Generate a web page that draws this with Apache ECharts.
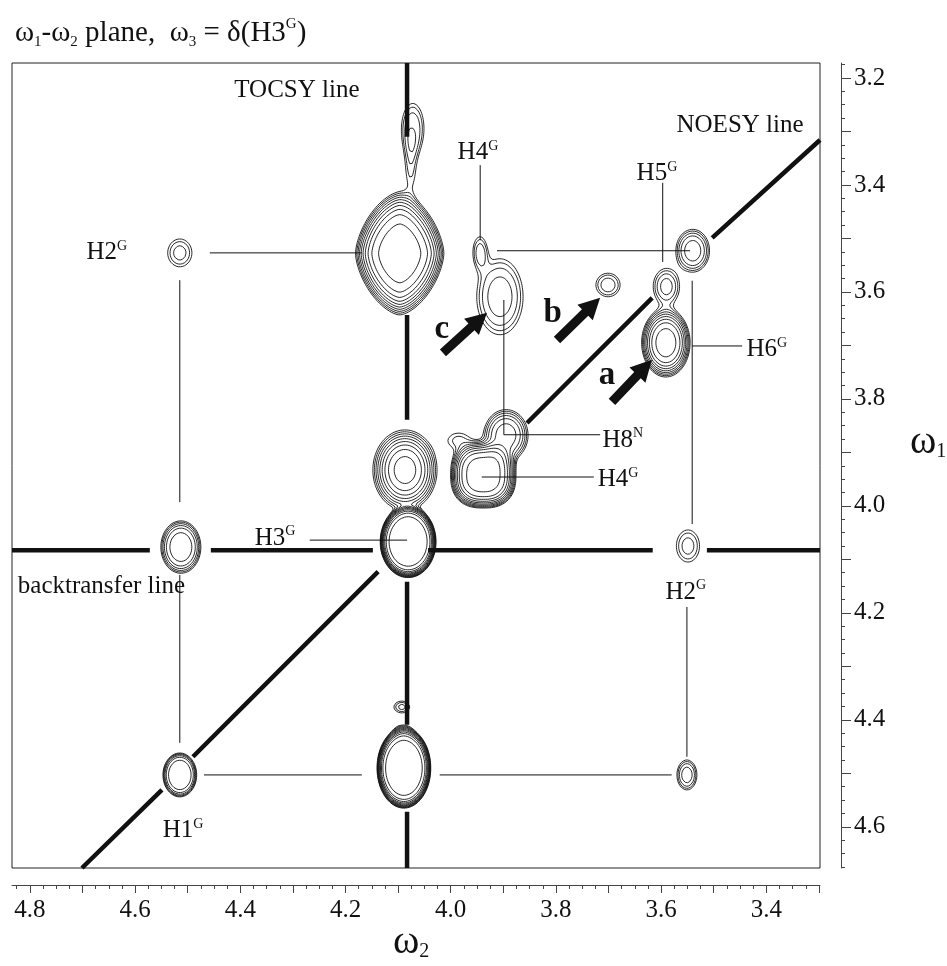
<!DOCTYPE html>
<html><head><meta charset="utf-8">
<script src="https://cdn.jsdelivr.net/npm/echarts@6/dist/echarts.min.js"></script>
<style>html,body{margin:0;padding:0;background:#fff}#c{width:947px;height:966px}</style>
</head><body><div id="c"></div>
<script>
// ---------------- data (ppm) ----------------
const xTickLabels = [4.8, 4.6, 4.4, 4.2, 4.0, 3.8, 3.6, 3.4];
const yTickLabels = [3.2, 3.4, 3.6, 3.8, 4.0, 4.2, 4.4, 4.6];
const w2Range = [3.298, 4.834];
const w1Range = [3.172, 4.677];

// cross peaks: centre (w2, w1), outer half widths, number of contour levels
const peakW2     = [4.072, 4.076, 4.097, 4.515, 4.513, 4.515, 4.089, 4.091, 4.093, 4.087, 4.081, 3.938, 3.895, 3.985, 3.9445, 3.9065, 3.701, 3.591, 3.590, 3.540, 3.549, 3.551];
const peakW1     = [3.294, 3.365, 3.528, 3.527, 4.077, 4.503, 4.490, 4.419, 4.376, 3.933, 4.067, 3.942, 3.868, 3.878, 3.525, 3.609, 3.587, 3.695, 3.590, 3.523, 4.075, 4.503];
const peakHalfW2 = [0.021, 0.009, 0.084, 0.023, 0.038, 0.032, 0.051, 0.012, 0.015, 0.061, 0.053, 0.062, 0.042, 0.020, 0.013, 0.044, 0.023, 0.046, 0.025, 0.032, 0.022, 0.019];
const peakHalfW1 = [0.046, 0.035, 0.115, 0.026, 0.049, 0.041, 0.075, 0.008, 0.011, 0.075, 0.067, 0.062, 0.048, 0.014, 0.028, 0.071, 0.022, 0.064, 0.034, 0.040, 0.030, 0.028];
const peakLevels = [3, 2, 10, 3, 6, 6, 11, 2, 3, 9, 11, 10, 6, 2, 3, 4, 3, 9, 4, 5, 3, 4];
const peakSharp  = [1.5, 1, 2, 1.2, 2, 3, 4, 1, 1, 1.3, 4, 2.2, 1.5, 1, 1.2, 1.5, 1.5, 1.6, 1.2, 1.5, 1.2, 1.5];
const peakNorm   = [2, 2, 1.6, 2, 2, 2, 2, 2, 2, 2, 2, 2.5, 2, 2, 2, 2, 2, 2, 2, 2, 2, 2];

// thick reference lines, segments [w2a, w1a, w2b, w1b]
const tocsyLine = [[4.083, 3.172, 4.083, 3.310], [4.083, 3.643, 4.083, 3.839], [4.083, 4.142, 4.083, 4.409], [4.083, 4.572, 4.083, 4.677]];
const backtransferLine = [[4.834, 4.083, 4.572, 4.083], [4.456, 4.083, 4.148, 4.083], [4.043, 4.083, 3.616, 4.083], [3.513, 4.083, 3.298, 4.083]];
const noesyLine = [[4.701, 4.677, 4.549, 4.531], [4.490, 4.469, 4.138, 4.123], [3.855, 3.845, 3.617, 3.611], [3.503, 3.499, 3.298, 3.316]];

// thin connector lines
const connectors = [
  [4.458, 3.527, 4.169, 3.527], [4.515, 3.578, 4.515, 3.993], [4.515, 4.129, 4.515, 4.443],
  [4.469, 4.503, 4.169, 4.503], [4.021, 4.503, 3.580, 4.503], [3.551, 4.189, 3.551, 4.469],
  [3.541, 3.579, 3.541, 4.034], [3.541, 3.701, 3.446, 3.701], [3.597, 3.396, 3.597, 3.544],
  [3.912, 3.523, 3.545, 3.523], [3.944, 3.363, 3.944, 3.503], [3.899, 3.615, 3.899, 3.867],
  [3.899, 3.867, 3.716, 3.867], [3.941, 3.946, 3.728, 3.946], [4.268, 4.064, 4.083, 4.064]
];

// annotations [text, superscript, w2, w1]
const annotations = [
  ['TOCSY line', '', 4.2924, 3.2224], ['NOESY line', '', 3.450, 3.288],
  ['H2', 'G', 4.6536, 3.527], ['H4', 'G', 3.9483, 3.340], ['H5', 'G', 3.608, 3.379],
  ['H6', 'G', 3.399, 3.708], ['H8', 'N', 3.673, 3.877], ['H4', 'G', 3.682, 3.951],
  ['H3', 'G', 4.334, 4.060], ['backtransfer line', '', 4.664, 4.151],
  ['H2', 'G', 3.553, 4.161], ['H1', 'G', 4.509, 4.607]
];
const arrowLetters = [['a', 3.703, 3.757], ['b', 3.806, 3.641], ['c', 4.017, 3.671]];
// arrows [tail w2, tail w1, tip w2, tip w1]
const arrows = [[3.6935, 3.8056, 3.6175, 3.727], [3.798, 3.690, 3.716, 3.611], [4.0148, 3.714, 3.931, 3.639]];

// ---------------- contour computation ----------------
const Q = 1.3;
function buildContours() {
  const X0 = w2Range[0], Y0 = w1Range[0], S = 0.002;
  const nx = Math.floor((w2Range[1] - X0) / S) + 2, ny = Math.floor((w1Range[1] - Y0) / S) + 2;
  const F = new Float64Array(nx * ny);
  let maxF = 0;
  for (let k = 0; k < peakW2.length; k++) {
    const n = peakLevels[k], p = peakSharp[k], m = peakNorm[k];
    const A = Math.pow(Q, n - 0.5), lnA = Math.log(A);
    const dOut = Math.pow(lnA, 1 / (2 * p));
    const sx = peakHalfW2[k] / dOut, sy = peakHalfW1[k] / dOut;
    const dMax = Math.pow(Math.log(A / 0.01), 1 / (2 * p)) * 1.2;
    const i0 = Math.max(0, Math.floor((peakW2[k] - dMax * sx - X0) / S));
    const i1 = Math.min(nx - 1, Math.ceil((peakW2[k] + dMax * sx - X0) / S));
    const j0 = Math.max(0, Math.floor((peakW1[k] - dMax * sy - Y0) / S));
    const j1 = Math.min(ny - 1, Math.ceil((peakW1[k] + dMax * sy - Y0) / S));
    for (let j = j0; j <= j1; j++) {
      const v = Math.abs((Y0 + j * S - peakW1[k]) / sy);
      for (let i = i0; i <= i1; i++) {
        const u = Math.abs((X0 + i * S - peakW2[k]) / sx);
        const d = m === 2 ? Math.sqrt(u * u + v * v) : Math.pow(Math.pow(u, m) + Math.pow(v, m), 1 / m);
        F[j * nx + i] += A * Math.exp(-Math.pow(d, 2 * p));
      }
    }
  }
  for (let t = 0; t < F.length; t++) if (F[t] > maxF) maxF = F[t];
  const data = [];
  function edgePoint(e, L) {
    const base = Math.floor(e / 2), i = base % nx, j = (base - i) / nx;
    if (e % 2 === 0) {
      const a = F[j * nx + i], b = F[j * nx + i + 1];
      const t = (L - a) / (b - a);
      return [X0 + (i + t) * S, Y0 + j * S];
    } else {
      const a = F[j * nx + i], b = F[(j + 1) * nx + i];
      const t = (L - a) / (b - a);
      return [X0 + i * S, Y0 + (j + t) * S];
    }
  }
  for (let L = 1; L < maxF; L *= Q) {
    const segs = [];
    for (let j = 0; j < ny - 1; j++) {
      for (let i = 0; i < nx - 1; i++) {
        const a = F[j * nx + i], b = F[j * nx + i + 1], c = F[(j + 1) * nx + i + 1], d = F[(j + 1) * nx + i];
        const idx = (a > L ? 1 : 0) | (b > L ? 2 : 0) | (c > L ? 4 : 0) | (d > L ? 8 : 0);
        if (idx === 0 || idx === 15) continue;
        const eB = 2 * (j * nx + i), eT = 2 * ((j + 1) * nx + i), eL = 2 * (j * nx + i) + 1, eR = 2 * (j * nx + i + 1) + 1;
        switch (idx) {
          case 1: case 14: segs.push(eL, eB); break;
          case 2: case 13: segs.push(eB, eR); break;
          case 3: case 12: segs.push(eL, eR); break;
          case 4: case 11: segs.push(eR, eT); break;
          case 6: case 9: segs.push(eB, eT); break;
          case 7: case 8: segs.push(eL, eT); break;
          case 5: { const ctr = (a + b + c + d) / 4; if (ctr > L) segs.push(eB, eR, eL, eT); else segs.push(eL, eB, eR, eT); break; }
          case 10: { const ctr = (a + b + c + d) / 4; if (ctr > L) segs.push(eL, eB, eR, eT); else segs.push(eB, eR, eL, eT); break; }
        }
      }
    }
    const ns = segs.length / 2;
    const adj = new Map();
    for (let k = 0; k < ns; k++) {
      for (let q = 0; q < 2; q++) {
        const e = segs[2 * k + q];
        const l = adj.get(e); if (l) l.push(k); else adj.set(e, [k]);
      }
    }
    const used = new Uint8Array(ns);
    const walk = (start, out) => {
      let e = start;
      for (;;) {
        const lst = adj.get(e); let nk = -1;
        for (const c of lst) if (!used[c]) { nk = c; break; }
        if (nk < 0) break;
        used[nk] = 1;
        e = segs[2 * nk] === e ? segs[2 * nk + 1] : segs[2 * nk];
        out.push(e);
      }
    };
    for (let k = 0; k < ns; k++) {
      if (used[k]) continue;
      used[k] = 1;
      const fwd = [segs[2 * k + 1]]; walk(segs[2 * k + 1], fwd);
      const bwd = []; walk(segs[2 * k], bwd);
      const chain = bwd.reverse().concat([segs[2 * k]], fwd);
      for (const e of chain) data.push(edgePoint(e, L));
      data.push(['-', '-']);
    }
  }
  return data;
}

function segData(segs) {
  const out = [];
  segs.forEach(s => { out.push([s[0], s[1]], [s[2], s[3]], ['-', '-']); });
  return out;
}

const FONT = 'Liberation Serif';
const minorX = [], majorX = [], minorY = [], majorY = [];
for (let k = 132; k <= 193; k++) minorX.push(+(k * 0.025).toFixed(3));
for (let k = 33; k <= 48; k++) majorX.push(+(k * 0.1).toFixed(1));
for (let k = 127; k <= 187; k++) minorY.push(+(k * 0.025).toFixed(3));
for (let k = 32; k <= 46; k++) majorY.push(+(k * 0.1).toFixed(1));

const axisColor = '#444';
const labelStyle = { fontFamily: FONT, fontSize: 25, color: '#111' };
const noBorder = { textBorderWidth: 0, textBorderColor: 'transparent', textShadowBlur: 0 };

const chart = echarts.init(document.getElementById('c'), null, { renderer: 'canvas' });
chart.setOption({
  animation: false,
  backgroundColor: '#fff',
  title: {
    left: 10, top: 12,
    text: '{t|ω}{s|1}{t|-ω}{s|2}{t| plane,  ω}{s|3}{t| = δ(H3}{p|G}{t|)}',
    textStyle: {
      fontWeight: 'normal',
      rich: {
        t: { fontFamily: FONT, fontSize: 29, fontWeight: 'normal', color: '#111', lineHeight: 33 },
        s: { fontFamily: FONT, fontSize: 15, fontWeight: 'normal', color: '#111', verticalAlign: 'bottom', lineHeight: 15 },
        p: { fontFamily: FONT, fontSize: 15, fontWeight: 'normal', color: '#111', verticalAlign: 'top', lineHeight: 16 }
      }
    }
  },
  graphic: [
    { type: 'text', left: 910, top: 422, style: { text: '{w|ω}{s|1}', rich: {
      w: { fontFamily: FONT, fontSize: 40, fill: '#111', lineHeight: 40 },
      s: { fontFamily: FONT, fontSize: 20, fill: '#111', verticalAlign: 'bottom', lineHeight: 20 } } } },
    { type: 'text', left: 393, top: 922, style: { text: '{w|ω}{s|2}', rich: {
      w: { fontFamily: FONT, fontSize: 40, fill: '#111', lineHeight: 40 },
      s: { fontFamily: FONT, fontSize: 20, fill: '#111', verticalAlign: 'bottom', lineHeight: 20 } } } }
  ],
  grid: { left: 12, right: 127, top: 63, bottom: 98, show: true, borderColor: '#222', borderWidth: 1, backgroundColor: 'transparent' },
  xAxis: [
    { type: 'value', inverse: true, min: w2Range[0], max: w2Range[1], position: 'bottom', offset: 17,
      axisLine: { show: true, lineStyle: { color: axisColor, width: 1 } },
      axisTick: { show: true, length: 8, customValues: majorX, lineStyle: { color: axisColor } },
      axisLabel: { show: true, customValues: xTickLabels, formatter: v => v.toFixed(1), margin: 13, ...labelStyle },
      splitLine: { show: false } },
    { type: 'value', inverse: true, min: w2Range[0], max: w2Range[1], position: 'bottom', offset: 17,
      axisLine: { show: false }, axisLabel: { show: false }, splitLine: { show: false },
      axisTick: { show: true, length: 4, customValues: minorX, lineStyle: { color: axisColor } } }
  ],
  yAxis: [
    { type: 'value', inverse: true, min: w1Range[0], max: w1Range[1], position: 'right', offset: 21,
      axisLine: { show: true, lineStyle: { color: axisColor, width: 1 } },
      axisTick: { show: true, length: 10, customValues: majorY, lineStyle: { color: axisColor } },
      axisLabel: { show: true, customValues: yTickLabels, formatter: v => v.toFixed(1), margin: 13, ...labelStyle },
      splitLine: { show: false } },
    { type: 'value', inverse: true, min: w1Range[0], max: w1Range[1], position: 'right', offset: 21,
      axisLine: { show: false }, axisLabel: { show: false }, splitLine: { show: false },
      axisTick: { show: true, length: 4, customValues: minorY, lineStyle: { color: axisColor } } }
  ],
  series: [
    { type: 'line', name: 'reference lines', data: segData(tocsyLine.concat(backtransferLine, noesyLine)),
      symbol: 'none', connectNulls: false, silent: true,
      lineStyle: { color: '#111', width: 4.5, cap: 'butt' } },
    { type: 'line', name: 'connectors', data: segData(connectors), symbol: 'none', connectNulls: false, silent: true,
      lineStyle: { color: '#111', width: 1 } },
    { type: 'line', name: 'contours', data: buildContours(), symbol: 'none', connectNulls: false, silent: true,
      lineStyle: { color: '#111', width: 0.9 } },
    { type: 'custom', name: 'arrows', data: arrows, silent: true, encode: { x: [0, 2], y: [1, 3] },
      renderItem: (params, api) => {
        const t = api.coord([api.value(0), api.value(1)]), h = api.coord([api.value(2), api.value(3)]);
        const dx = h[0] - t[0], dy = h[1] - t[1], len = Math.hypot(dx, dy);
        const ux = dx / len, uy = dy / len, px = -uy, py = ux;
        const hw = 4.5, HL = 21, HW = 11;
        const bx = h[0] - ux * HL, by = h[1] - uy * HL;
        return { type: 'polygon', shape: { points: [
          [t[0] + px * hw, t[1] + py * hw], [bx + px * hw, by + py * hw], [bx + px * HW, by + py * HW],
          [h[0], h[1]], [bx - px * HW, by - py * HW], [bx - px * hw, by - py * hw], [t[0] - px * hw, t[1] - py * hw]
        ] }, style: { fill: '#111' } };
      } },
    { type: 'scatter', name: 'labels', symbolSize: 1, silent: true, itemStyle: { color: 'rgba(255,255,255,0)', opacity: 1 },
      data: annotations.map(a => ({ value: [a[2], a[3]], label: { formatter: a[1] ? `{m|${a[0]}}{s|${a[1]}}` : `{m|${a[0]}}` } }))
        .concat(arrowLetters.map(a => ({ value: [a[1], a[2]], label: { formatter: `{b|${a[0]}}` } }))),
      label: { show: true, position: 'inside', color: '#111', opacity: 1, ...noBorder, rich: {
        m: { fontFamily: FONT, fontSize: 25, color: '#111', lineHeight: 27, ...noBorder },
        s: { fontFamily: FONT, fontSize: 14, color: '#111', verticalAlign: 'top', lineHeight: 14, ...noBorder },
        b: { fontFamily: FONT, fontSize: 33, fontWeight: 'bold', color: '#111', lineHeight: 34, ...noBorder }
      } } }
  ]
});
</script></body></html>
